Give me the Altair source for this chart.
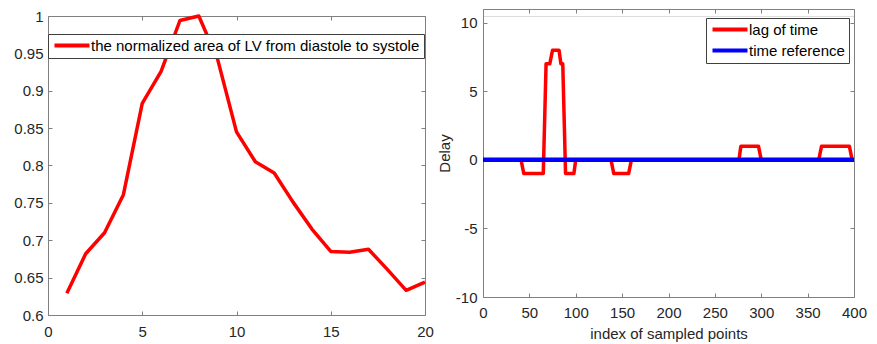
import altair as alt
import pandas as pd

# ---- data: left panel (normalized area of LV) ----
area_x = list(range(1, 21))
area_y = [0.629, 0.682, 0.710, 0.761, 0.883, 0.926, 0.994, 1.000, 0.942, 0.845,
          0.805, 0.790, 0.751, 0.715, 0.685, 0.684, 0.688, 0.661, 0.633, 0.644]
left_xticks = [0, 5, 10, 15, 20]
left_yticks = [0.6, 0.65, 0.7, 0.75, 0.8, 0.85, 0.9, 0.95, 1]
left_name = "the normalized area of LV from diastole to systole"

# ---- data: right panel (delay) ----
lag_x = [0, 41, 44, 65, 68, 72, 75, 82, 84, 86, 89, 98, 100, 138, 141, 157, 160,
         276, 278, 297, 300, 362, 365, 395, 398, 400]
lag_y = [0, 0, -1, -1, 7, 7, 8, 8, 7, 7, -1, -1, 0, 0, -1, -1, 0,
         0, 1, 1, 0, 0, 1, 1, 0, 0]
ref_x = [0, 400]
ref_y = [0, 0]
right_xticks = [0, 50, 100, 150, 200, 250, 300, 350, 400]
right_yticks = [-10, -5, 0, 5, 10]
right_names = ["lag of time", "time reference"]

FONT = "Liberation Sans"
TXT = "#262626"
BOX = "#808080"
LBL = "'' + datum.value"
FS = 15
INWARD = {"expr": "-4"}


def ax(orient, values, labels=True, pad=10, title=None, tpad=4, offset=0):
    kw = dict(orient=orient, values=values, offset=offset, tickSize=INWARD,
              domain=True, domainColor=BOX, domainWidth=1,
              grid=False, tickColor=BOX, tickWidth=1, labelFontSize=FS, labelColor=TXT,
              labelFont=FONT, labelPadding=pad, labels=labels, labelExpr=LBL,
              labelFlush=False, labelOverlap=False)
    if title:
        kw.update(title=title, titleFontSize=FS, titleFont=FONT, titleColor=TXT,
                  titleFontWeight="normal", titlePadding=tpad)
    else:
        kw.update(title=None)
    return alt.Axis(**kw)


def legend(x, y):
    return alt.Legend(orient="none", legendX=x, legendY=y, title=None,
                      strokeColor="#404040", fillColor="white", padding=4,
                      labelFontSize=FS, labelFont=FONT, labelColor="#000000",
                      labelLimit=0,
                      symbolType="M-1,0H6", symbolSize=100, symbolStrokeWidth=4,
                      labelOffset=24, rowPadding=4, cornerRadius=0)


# ---------- left ----------
left_df = pd.DataFrame({"x": area_x, "y": area_y, "s": [left_name] * len(area_x)})
lx = alt.Scale(domain=[0, 20], nice=False)
ly = alt.Scale(domain=[0.6, 1.0], nice=False, zero=False)

left_line = alt.Chart(left_df).mark_line(strokeWidth=3.5, strokeJoin="round").encode(
    x=alt.X("x:Q", scale=lx, axis=ax("bottom", left_xticks, pad=13)),
    y=alt.Y("y:Q", scale=ly, axis=ax("left", left_yticks, pad=9)),
    color=alt.Color("s:N", scale=alt.Scale(domain=[left_name], range=["#ff0000"]),
                    legend=legend(0, 18)),
)
left_ticks = alt.Chart(left_df).mark_point(opacity=0).encode(
    x=alt.X("x:Q", scale=lx, axis=ax("top", left_xticks, labels=False)),
    y=alt.Y("y:Q", scale=ly, axis=ax("right", left_yticks, labels=False)),
)
left = alt.layer(left_line, left_ticks).resolve_axis(x="independent", y="independent").properties(
    width=377, height=299)

# ---------- right ----------
# the right box starts 7 px higher than the left one: its y range reaches above the view
R_H = 281
R_UP = 7
lag_df = pd.DataFrame({"x": lag_x, "y": lag_y, "s": [right_names[0]] * len(lag_x)})
ref_df = pd.DataFrame({"x": ref_x, "y": ref_y, "s": [right_names[1]] * len(ref_x)})
rx = alt.Scale(domain=[0, 400], nice=False)
ry = alt.Scale(domain=[-10, 11], nice=False, zero=False, range=[R_H, -R_UP])
rcol = alt.Color("s:N", scale=alt.Scale(domain=right_names, range=["#ff0000", "#0000ff"]),
                 legend=legend(223, 2))

lag_line = alt.Chart(lag_df).mark_line(strokeWidth=3.5, strokeJoin="round").encode(
    x=alt.X("x:Q", scale=rx, axis=ax("bottom", right_xticks, pad=12,
                                     title="index of sampled points", tpad=6)),
    y=alt.Y("y:Q", scale=ry, axis=ax("left", right_yticks, pad=10, title="Delay", tpad=3)),
    color=rcol,
)
ref_line = alt.Chart(ref_df).mark_line(strokeWidth=4.5).encode(
    x=alt.X("x:Q", scale=rx, axis=None),
    y=alt.Y("y:Q", scale=ry, axis=None),
    color=rcol,
)
right_ticks = alt.Chart(lag_df).mark_point(opacity=0).encode(
    x=alt.X("x:Q", scale=rx, axis=ax("top", right_xticks, labels=False, offset=R_UP)),
    y=alt.Y("y:Q", scale=ry, axis=ax("right", right_yticks, labels=False)),
)
right = alt.layer(lag_line, ref_line, right_ticks).resolve_axis(
    x="independent", y="independent").properties(width=371, height=R_H)

chart = alt.hconcat(left, right, spacing=2).resolve_scale(
    color="independent").resolve_legend(color="independent").properties(
    padding={"left": 13, "top": 8, "right": 5, "bottom": 0}
).configure_view(stroke="transparent").configure(font=FONT, background="white")

chart.save("out.html", embed_options={"renderer": "svg", "actions": False})
